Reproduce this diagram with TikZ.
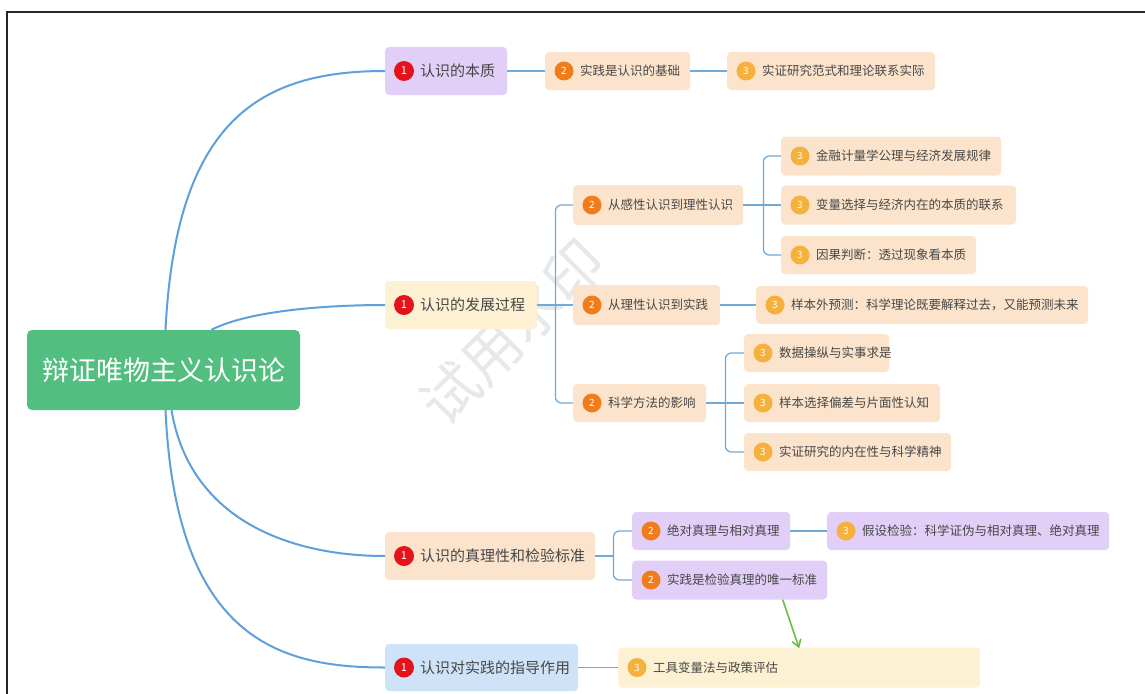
\documentclass[tikz,border=0pt]{standalone}
\usepackage{fontspec}
\setmainfont{Noto Sans CJK SC}
\usetikzlibrary{arrows.meta}
\definecolor{cgreen}{HTML}{52BE80}
\definecolor{cpurple}{HTML}{E2CFF7}
\definecolor{cpeach}{HTML}{FCE4CC}
\definecolor{cyellow}{HTML}{FDF1D3}
\definecolor{cblue}{HTML}{CFE3F8}
\definecolor{bred}{HTML}{E3131B}
\definecolor{borange}{HTML}{F07D1B}
\definecolor{byellow}{HTML}{F4B13E}
\definecolor{linkblue}{HTML}{5DA0DB}
\definecolor{thinblue}{HTML}{6FAAD8}
\definecolor{txtgray}{HTML}{474747}
\definecolor{arrgreen}{HTML}{6DBE45}
\tikzset{
  box/.style={rectangle, rounded corners=4pt, draw=none, inner sep=0pt},
  badge1/.style={circle, fill=bred, text=white, minimum size=20pt, inner sep=0pt, font=\fontsize{11}{12}\selectfont},
  badge2/.style={circle, fill=borange, text=white, minimum size=19pt, inner sep=0pt, font=\fontsize{10}{12}\selectfont},
  badge3/.style={circle, fill=byellow, text=white, minimum size=19pt, inner sep=0pt, font=\fontsize{10}{12}\selectfont},
  txt1/.style={inner sep=0pt, text=txtgray, font=\fontsize{15}{18}\selectfont},
  txt2/.style={inner sep=0pt, text=txtgray, font=\fontsize{12.5}{15}\selectfont},
  txt3/.style={inner sep=0pt, text=txtgray, font=\fontsize{12.5}{15}\selectfont},
  mainlink/.style={draw=linkblue, line width=2pt},
  sublink/.style={draw=thinblue, line width=1.3pt, rounded corners=6pt},
  greenarrow/.style={draw=arrgreen, line width=1.6pt, -{Straight Barb[length=7pt,width=9pt]}},
}
\newcommand\mmbox[7]{%
  \node[box, fill=#5, minimum width=#3pt, minimum height=#4pt, anchor=west] (#1) at (#2) {};
  \node[badge#6] (#1b) at ([xshift=19pt]#1.west) {#6};
  \node[txt#6, anchor=west] (#1t) at ([xshift=35pt]#1.west) {#7};
}
\begin{document}
\begin{tikzpicture}[x=1pt, y=-1pt]
\useasboundingbox (0,0) rectangle (1145,693);
\fill[white] (0,0) rectangle (1145,693);
% frame
\draw[line width=1.6pt, black!85] (1146,12) -- (7,12) -- (7,694);
% watermark
\node[rotate=45, text=black!9, font=\fontsize{58}{60}\selectfont] (wm) at (512,332) {试用水印};

% root
\node[box, fill=cgreen, minimum width=273pt, minimum height=80pt, rounded corners=5pt, text=white, font=\fontsize{27}{30}\selectfont] (root) at (163.5,370) {辩证唯物主义认识论};

% level 1
\mmbox{n1}{385,71}{122}{48}{cpurple}{1}{认识的本质}
\mmbox{n2}{385,305}{152}{48}{cyellow}{1}{认识的发展过程}
\mmbox{n3}{385,556}{210}{48}{cpeach}{1}{认识的真理性和检验标准}
\mmbox{n4}{385,667.5}{193}{47}{cblue}{1}{认识对实践的指导作用}

% level 2
\mmbox{m1}{545,71}{145}{38}{cpeach}{2}{实践是认识的基础}
\mmbox{m2}{573,205}{170}{40}{cpeach}{2}{从感性认识到理性认识}
\mmbox{m3}{573,305}{147}{40}{cpeach}{2}{从理性认识到实践}
\mmbox{m4}{573,403}{133}{38}{cpeach}{2}{科学方法的影响}
\mmbox{m5}{632,531}{158}{38}{cpurple}{2}{绝对真理与相对真理}
\mmbox{m6}{632,580}{195}{39}{cpurple}{2}{实践是检验真理的唯一标准}

% level 3
\mmbox{l1}{727,71}{208}{38}{cpeach}{3}{实证研究范式和理论联系实际}
\mmbox{l2}{781,156}{220}{39}{cpeach}{3}{金融计量学公理与经济发展规律}
\mmbox{l3}{781,205}{235}{39}{cpeach}{3}{变量选择与经济内在的本质的联系}
\mmbox{l4}{781,255}{195}{38}{cpeach}{3}{因果判断：透过现象看本质}
\mmbox{l5}{756,305}{332}{38}{cpeach}{3}{样本外预测：科学理论既要解释过去，又能预测未来}
\mmbox{l6}{744,353}{145}{38}{cpeach}{3}{数据操纵与实事求是}
\mmbox{l7}{744,403}{196}{38}{cpeach}{3}{样本选择偏差与片面性认知}
\mmbox{l8}{744,452}{207}{38}{cpeach}{3}{实证研究的内在性与科学精神}
\mmbox{l9}{827,531}{282}{38}{cpurple}{3}{假设检验：科学证伪与相对真理、绝对真理}
\mmbox{l10}{618,667.5}{362}{40}{cyellow}{3}{工具变量法与政策评估}

% main links
\path[mainlink] ([xshift=2pt]root.north) .. controls (176,120) and (260,71) .. (n1.west);
\path[mainlink] ([xshift=48pt]root.north) .. controls (250,310) and (330,305) .. (n2.west);
\path[mainlink] ([xshift=8pt]root.south) .. controls (190,520) and (290,556) .. (n3.west);
\path[mainlink] ([xshift=2pt]root.south) .. controls (176,640) and (280,667.5) .. (n4.west);

% sub links
\draw[sublink] (n1.east) -- (m1.west);
\draw[sublink] (m1.east) -- (l1.west);
\draw[sublink] (n2.east) -- (m3.west);
\draw[sublink] ([xshift=18pt]n2.east) |- (m2.west);
\draw[sublink] ([xshift=18pt]n2.east) |- (m4.west);
\draw[sublink] (m2.east) -- (l3.west);
\draw[sublink] ([xshift=20pt]m2.east) |- (l2.west);
\draw[sublink] ([xshift=20pt]m2.east) |- (l4.west);
\draw[sublink] (m3.east) -- (l5.west);
\draw[sublink] (m4.east) -- (l7.west);
\draw[sublink] ([xshift=19pt]m4.east) |- (l6.west);
\draw[sublink] ([xshift=19pt]m4.east) |- (l8.west);
\draw[sublink] (n3.east) -- ([xshift=18pt]n3.east);
\draw[sublink] ([xshift=18pt]n3.east) |- (m5.west);
\draw[sublink] ([xshift=18pt]n3.east) |- (m6.west);
\draw[sublink] (m5.east) -- (l9.west);
\draw[sublink] (n4.east) -- (l10.west);

% green arrow
\draw[greenarrow] ([xshift=53pt]m6.south) -- ([yshift=-1pt]l10.north);
\end{tikzpicture}
\end{document}
